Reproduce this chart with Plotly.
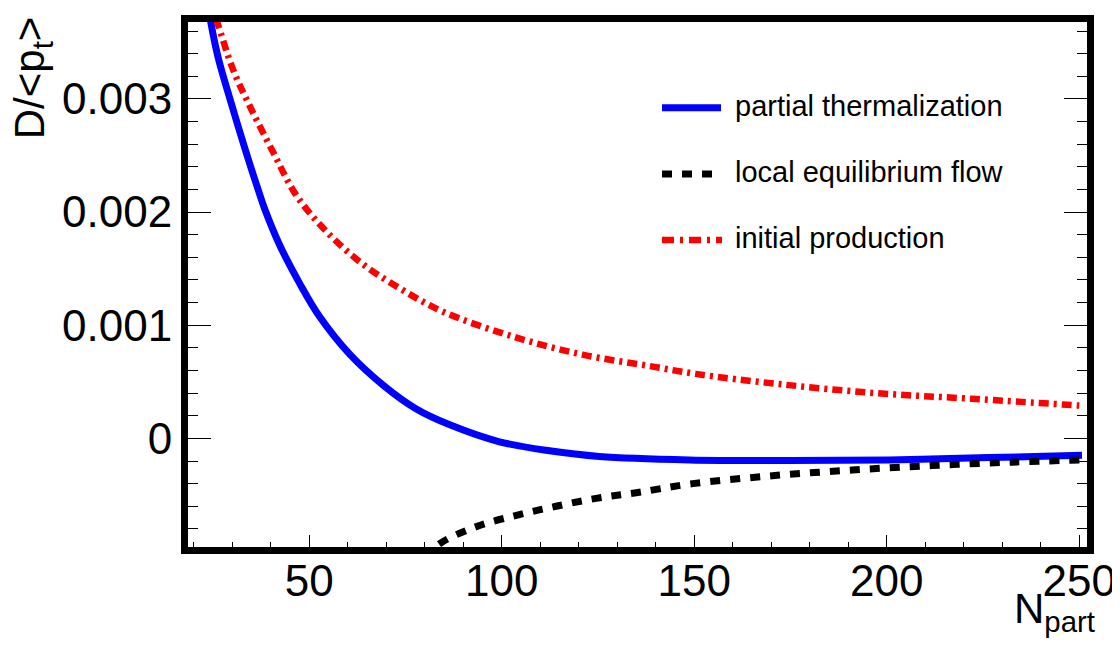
import plotly.graph_objects as go

# ---- data ----
npart_thermal = [22, 24.3, 26.3, 29.4, 33.3, 36.7, 38.4, 42.3, 47.5, 52.8, 60.6, 69.2, 77.8,
                 86.5, 99.4, 112.4, 125.3, 148.7, 174.6, 200.6, 226.5, 250.7]
d_thermal = [0.0042, 0.00370, 0.00337, 0.00300, 0.00256, 0.00220, 0.00203, 0.00171, 0.00137, 0.00107,
             0.00074, 0.00047, 0.00026, 0.00012, -0.00003, -0.00011, -0.00016, -0.00019,
             -0.000195, -0.00019, -0.00017, -0.00015]

npart_flow = [80, 83.9, 93.4, 103.8, 114.1, 124.5, 134.9, 149.6, 170.3, 191.0, 211.8, 232.5, 251.1]
d_flow = [-0.00106, -0.00093, -0.00078, -0.00068, -0.00060, -0.00053, -0.00048, -0.00040, -0.00033,
          -0.00028, -0.00024, -0.00021, -0.00019]

npart_init = [24, 25.9, 30.2, 34.5, 40.6, 46.6, 54.4, 63.9, 74.3, 84.7, 102.9, 121.0, 138.3, 150.4,
              172.0, 197.1, 222.2, 250]
d_init = [0.0039, 0.00370, 0.00326, 0.00294, 0.00253, 0.00215, 0.00183, 0.00154, 0.00131, 0.00112,
          0.00090, 0.00074, 0.00064, 0.00057, 0.00048, 0.00040, 0.00035, 0.00029]

series_names = ["partial thermalization", "local equilibrium flow", "initial production"]

x_tickvals = [50, 100, 150, 200, 250]
x_ticktext = ["50", "100", "150", "200", "250"]
y_tickvals = [0, 0.001, 0.002, 0.003]
y_ticktext = ["0", "0.001", "0.002", "0.003"]

x_minor = [v for v in range(20, 251, 10) if v % 50 != 0]
y_minor = [round(-0.0008 + 0.0002 * i, 4) for i in range(0, 23) if (i % 5) != 4]

FONT = "Liberation Sans, Arial, Helvetica, sans-serif"

# ---- layout geometry (figure pixels; the page adds an 8px body margin) ----
OFF = 8
W, H = 1120, 651
L, R, T, B = 188 - OFF, 1087 - OFF, 15 - OFF, 547 - OFF


def px(xs):
    return (xs - OFF - L) / (R - L)


def py(ys):
    return (B - (ys - OFF)) / (B - T)


fig = go.Figure()
fig.add_trace(go.Scatter(x=npart_thermal, y=d_thermal, mode="lines", name=series_names[0],
                         line=dict(color="#0000ff", width=7, shape="spline", smoothing=1.0)))
fig.add_trace(go.Scatter(x=npart_flow, y=d_flow, mode="lines", name=series_names[1],
                         line=dict(color="#000000", width=7, dash="10px,10px", shape="spline", smoothing=1.0)))
fig.add_trace(go.Scatter(x=npart_init, y=d_init, mode="lines", name=series_names[2],
                         line=dict(color="#ff0000", width=6.5, dash="10px,5px,3px,5px", shape="spline", smoothing=1.0)))

fig.update_layout(
    width=W, height=H,
    margin=dict(l=L, r=W - R, t=T, b=H - B, pad=0),
    paper_bgcolor="white", plot_bgcolor="white",
    showlegend=False,
    font=dict(family=FONT, color="black"),
)

fig.update_xaxes(
    range=[18.5, 252], showgrid=False, zeroline=False,
    showline=True, linewidth=7, linecolor="black", mirror=True,
    ticks="inside", ticklen=12, tickwidth=1.3, tickcolor="black",
    tickmode="array", tickvals=x_tickvals, ticktext=x_ticktext,
    tickfont=dict(size=44, family=FONT, color="black"),
    ticklabelstandoff=-11,
    minor=dict(ticks="inside", ticklen=5, tickwidth=1.3, tickcolor="black",
               tickmode="array", tickvals=x_minor, showgrid=False),
)
fig.update_yaxes(
    range=[-0.00096, 0.00368], showgrid=False, zeroline=False,
    showline=True, linewidth=7, linecolor="black", mirror="allticks",
    ticks="inside", ticklen=23, tickwidth=1.3, tickcolor="black",
    tickmode="array", tickvals=y_tickvals, ticktext=y_ticktext,
    tickfont=dict(size=44, family=FONT, color="black"),
    minor=dict(ticks="inside", ticklen=10, tickwidth=1.3, tickcolor="black",
               tickmode="array", tickvals=y_minor, showgrid=False),
)

# axis titles
fig.add_annotation(text="D/&lt;p<sub>t</sub>&gt;", xref="paper", yref="paper",
                   x=px(32), y=py(72), xanchor="center", yanchor="middle",
                   textangle=-90, showarrow=False, font=dict(size=42, family=FONT, color="black"))
fig.add_annotation(text="N<sub>part</sub>", xref="paper", yref="paper",
                   x=px(1097), y=py(612), xanchor="right", yanchor="middle",
                   showarrow=False, font=dict(size=42, family=FONT, color="black"))

# legend drawn by hand
legend_rows = [
    (102, "#0000ff", 7, "solid", 721),
    (169, "#000000", 7, "10px,10px", 712),
    (236, "#ff0000", 6.5, "12px,6px,3px,6px", 722),
]
for (yy, col, lw, dash, xend), name in zip(legend_rows, series_names):
    fig.add_shape(type="line", xref="paper", yref="paper",
                  x0=px(662), x1=px(xend), y0=py(yy), y1=py(yy),
                  line=dict(color=col, width=lw, dash=dash))
    fig.add_annotation(text=name, xref="paper", yref="paper",
                       x=px(733), y=py(yy - 2), xanchor="left", yanchor="middle",
                       showarrow=False, font=dict(size=29, family=FONT, color="black"))

fig.write_html("out.html")
